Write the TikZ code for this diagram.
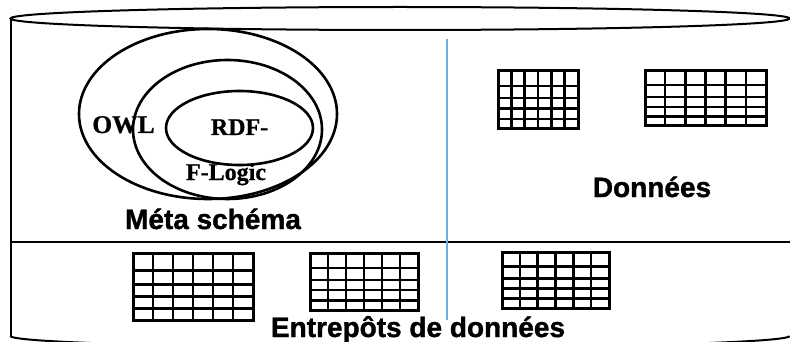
\documentclass[tikz,border=0pt]{standalone}
\usepackage{fontspec}
\setmainfont{Liberation Serif}[BoldFeatures={FakeBold=0.8}]
\newfontfamily\labelfont{Liberation Sans}[BoldFont={Liberation Sans Bold}, BoldFeatures={FakeBold=1.3}]
\usetikzlibrary{shapes.geometric}
\definecolor{sepblue}{RGB}{110,170,230}
\tikzset{
  cyl/.style={line width=2pt, black},
  setell/.style={draw, ellipse, line width=2.6pt, inner sep=0pt, outer sep=0pt},
  langtext/.style={font=\fontsize{24}{24}\selectfont\bfseries, anchor=base, inner sep=0pt},
  zonelabel/.style={font=\labelfont\fontsize{28}{29}\selectfont\bfseries, anchor=base, inner sep=0pt},
  tabframe/.style={line width=3pt},
  tabline/.style={line width=2.4pt}
}
% data table: \datatable{x1}{y1}{x2}{y2}
\newcommand\datatable[4]{%
  \foreach \f in {0.26,0.47,0.65,0.83}{
    \draw[tabline] (#1,{#2+\f*(#4-#2)}) -- (#3,{#2+\f*(#4-#2)});
  }
  \foreach \c in {1,...,5}{
    \draw[tabline] ({#1+\c*(#3-#1)/6},#2) -- ({#1+\c*(#3-#1)/6},#4);
  }
  \draw[tabframe] (#1,#2) rectangle (#3,#4);
}
\begin{document}
\begin{tikzpicture}[x=1pt,y=-1pt]
\useasboundingbox (0,0) rectangle (790,342);
\clip (0,0) rectangle (790,342);
% cylinder
\draw[cyl] (400,18.5) ellipse [x radius=389.5, y radius=11.5];
\coordinate (tl) at (10.5,18.5);
\coordinate (bl) at (10.5,336);
\draw[cyl] (tl) -- (bl);
\draw[cyl] (bl) arc[start angle=180, end angle=0, x radius=389.5, y radius=11.5];
\coordinate (hl) at (10.5,242);
\coordinate (hr) at (790,242);
\draw[cyl] (hl) -- (hr);
% blue separator
\coordinate (vt) at (447,39);
\coordinate (vb) at (447,320);
\draw[sepblue, line width=1.4pt] (vt) -- (vb);
% set ellipses
\node[setell, minimum width=258pt, minimum height=170pt] (owl) at (208,114) {};
\node[setell, minimum width=189pt, minimum height=139pt] (flogic) at (227.5,129.5) {};
\node[setell, minimum width=147pt, minimum height=74pt] (rdf) at (239.5,128) {};
% language labels
\node[langtext, font=\fontsize{25.5}{25}\selectfont\bfseries] (owlt) at (123.5,133) {OWL};
\node[langtext] (rdft) at (239.5,135) {RDF-};
\node[langtext] (flt) at (226,180) {F-Logic};
% zone labels
\node[zonelabel] (meta) at (213,229) {Méta schéma};
\node[zonelabel] (donnees) at (652,197) {Données};
\node[zonelabel] (entrepots) at (418,337) {Entrepôts de données};
% tables
\datatable{498}{71}{578}{129}
\datatable{645}{71}{766}{126}
\datatable{133}{253}{253}{320}
\datatable{310}{253}{418}{310}
\datatable{502}{252}{609}{308}
\end{tikzpicture}
\end{document}
